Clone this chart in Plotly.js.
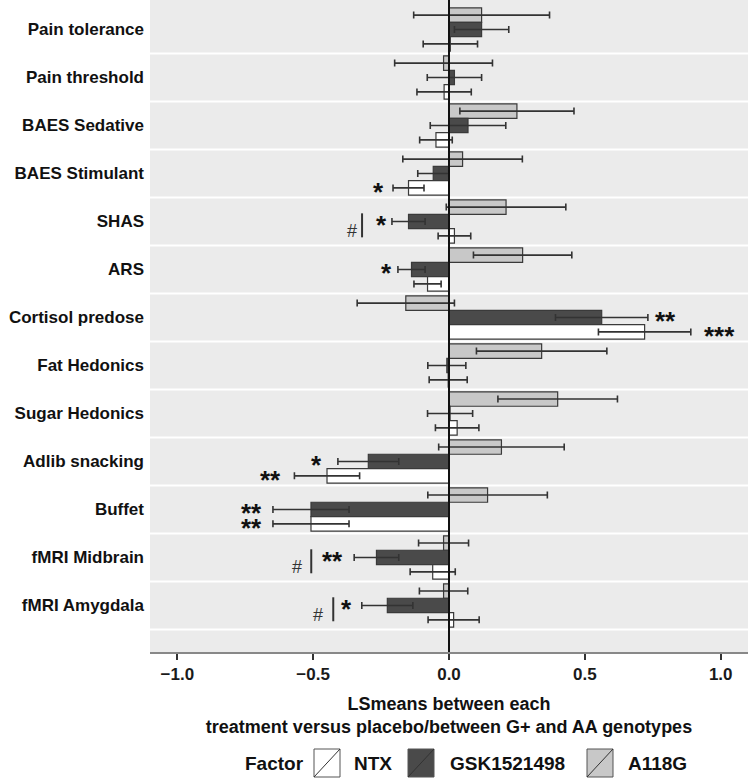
<!DOCTYPE html>
<html><head><meta charset="utf-8">
<script src="https://cdn.plot.ly/plotly-3.0.1.min.js"></script>
<style>html,body{margin:0;padding:0;background:#fff}#chart{width:748px;height:779px}</style>
</head><body><div id="chart"></div>
<script>
// ---- data ----
const categories = ['Pain tolerance','Pain threshold','BAES Sedative','BAES Stimulant','SHAS','ARS',
  'Cortisol predose','Fat Hedonics','Sugar Hedonics','Adlib snacking','Buffet','fMRI Midbrain','fMRI Amygdala'];
const seriesNames = ['NTX','GSK1521498','A118G'];
const ntxValues   = [0.005,-0.018,-0.048,-0.149,0.02,-0.079,0.72,-0.003,0.03,-0.449,-0.508,-0.06,0.017];
const ntxErrors   = [0.10,0.10,0.06,0.057,0.06,0.05,0.17,0.07,0.08,0.12,0.14,0.083,0.094];
const gskValues   = [0.12,0.02,0.07,-0.058,-0.149,-0.138,0.562,-0.008,0.004,-0.297,-0.508,-0.267,-0.227];
const gskErrors   = [0.10,0.10,0.139,0.057,0.061,0.05,0.17,0.07,0.083,0.112,0.14,0.082,0.094];
const a118gValues = [0.12,-0.02,0.25,0.05,0.21,0.271,-0.159,0.341,0.40,0.193,0.142,-0.02,-0.02];
const a118gErrors = [0.25,0.18,0.21,0.22,0.22,0.181,0.179,0.24,0.22,0.231,0.22,0.092,0.089];
const xTickValues = [-1,-0.5,0,0.5,1];

// significance marks
const sigCategory = ['BAES Stimulant','SHAS','ARS','Cortisol predose','Cortisol predose','Adlib snacking',
  'Adlib snacking','Buffet','Buffet','fMRI Midbrain','fMRI Amygdala'];
const sigSeries = ['NTX','GSK1521498','GSK1521498','GSK1521498','NTX','GSK1521498','NTX','GSK1521498','NTX',
  'GSK1521498','GSK1521498'];
const sigLabels = ['*','*','*','**','***','*','**','**','**','**','*'];
const sigX = [-0.26,-0.248,-0.229,0.798,0.997,-0.489,-0.657,-0.728,-0.728,-0.43,-0.379];
const hashCategory = ['SHAS','fMRI Midbrain','fMRI Amygdala'];
const hashX = [-0.357,-0.559,-0.482];
const hashBarX = [-0.32,-0.507,-0.426];

// ---- styles ----
const FONT = '"Liberation Sans", Arial, Helvetica, sans-serif';
const fills = {'NTX':'#ffffff','GSK1521498':'#4a4a4a','A118G':'#c8c8c8'};
const offsets = {'A118G':-0.3,'GSK1521498':0,'NTX':0.3};

function barTrace(name, values, errors){
  return {type:'bar', orientation:'h', name:name, y:categories, x:values,
    marker:{color:fills[name], line:{color:'#3a3a3a', width:1.2}},
    error_x:{type:'data', array:errors, visible:true, color:'#333333', thickness:1.6, width:3.5},
    hovertemplate:'%{y}: %{x}<extra>'+name+'</extra>'};
}
// trace order gives A118G on top, NTX at bottom of each group (reversed axis)
const data = [
  barTrace('A118G', a118gValues, a118gErrors),
  barTrace('GSK1521498', gskValues, gskErrors),
  barTrace('NTX', ntxValues, ntxErrors)
];

const L = 150, W = 598, H = 652;
const px2x = p => (p - L) / W;
const py2y = p => (H - p) / H;

const shapes = [];
const annotations = [];
// category separators
for (let k = 0; k < categories.length; k++) {
  shapes.push({type:'line', xref:'paper', x0:0, x1:1, yref:'y', y0:k+0.5, y1:k+0.5,
    line:{color:'#ffffff', width:2}, layer:'below'});
}
// zero reference line
shapes.push({type:'line', xref:'x', x0:0, x1:0, yref:'paper', y0:0, y1:1,
  line:{color:'#111111', width:2}, layer:'above'});

sigLabels.forEach((t, i) => {
  annotations.push({xref:'x', yref:'y', x:sigX[i], y:categories.indexOf(sigCategory[i]) + offsets[sigSeries[i]],
    text:t, showarrow:false, xanchor:'center', yanchor:'middle', yshift:-4,
    font:{family:FONT, size:26, color:'#111111', weight:700}});
});
hashCategory.forEach((c, i) => {
  const idx = categories.indexOf(c);
  annotations.push({xref:'x', yref:'y', x:hashX[i], y:idx + 0.2, text:'#', showarrow:false,
    xanchor:'center', yanchor:'middle', font:{family:FONT, size:18, color:'#333333'}});
  shapes.push({type:'line', xref:'x', yref:'y', x0:hashBarX[i], x1:hashBarX[i], y0:idx - 0.17, y1:idx + 0.33,
    line:{color:'#333333', width:2}});
});

// custom legend (ggplot style keys)
const legendY = 763, boxTop = 749, boxBot = 777;
annotations.push({xref:'paper', yref:'paper', x:px2x(274), y:py2y(legendY), text:'Factor', showarrow:false,
  xanchor:'center', yanchor:'middle', font:{family:FONT, size:19, color:'#111111', weight:700}});
const keyBoxes = [[314,340,352],[408,434,448],[587,613,626]];
seriesNames.forEach((n, i) => {
  const [x0, x1, tx] = keyBoxes[i];
  shapes.push({type:'rect', xref:'paper', yref:'paper', x0:px2x(x0), x1:px2x(x1), y0:py2y(boxBot), y1:py2y(boxTop),
    fillcolor:fills[n], line:{color:'#555555', width:1}});
  shapes.push({type:'line', xref:'paper', yref:'paper', x0:px2x(x0), x1:px2x(x1), y0:py2y(boxBot), y1:py2y(boxTop),
    line:{color:'#333333', width:1}});
  annotations.push({xref:'paper', yref:'paper', x:px2x(tx), y:py2y(legendY), text:n, showarrow:false,
    xanchor:'left', yanchor:'middle', font:{family:FONT, size:19, color:'#111111', weight:700}});
});

const layout = {
  width:748, height:779,
  margin:{l:L, r:0, t:0, b:779-H, pad:0},
  paper_bgcolor:'#ffffff', plot_bgcolor:'#ebebeb',
  showlegend:false,
  barmode:'group', bargap:0.1, bargroupgap:0,
  font:{family:FONT, color:'#111111'},
  xaxis:{range:[-1.1005, 1.1005], tickvals:xTickValues, tickformat:'.1f',
    showgrid:false, zeroline:false, showline:true, linecolor:'#888888', linewidth:2,
    ticks:'outside', ticklen:6, tickwidth:2, tickcolor:'#333333',
    tickfont:{family:FONT, size:17, color:'#1a1a1a', weight:700},
    title:{text:'LSmeans between each<br>treatment versus placebo/between G+ and AA genotypes',
      font:{family:FONT, size:18, color:'#111111', weight:700}, standoff:14},
    automargin:false, fixedrange:true},
  yaxis:{type:'category', categoryorder:'array', categoryarray:categories,
    range:[12.97, -0.615], showgrid:false, zeroline:false, showline:false, ticks:'',
    ticklabelstandoff:5,
    tickfont:{family:FONT, size:17, color:'#111111', weight:700},
    automargin:false, fixedrange:true},
  shapes:shapes, annotations:annotations
};
Plotly.newPlot('chart', data, layout, {displayModeBar:false, staticPlot:true});
</script></body></html>
